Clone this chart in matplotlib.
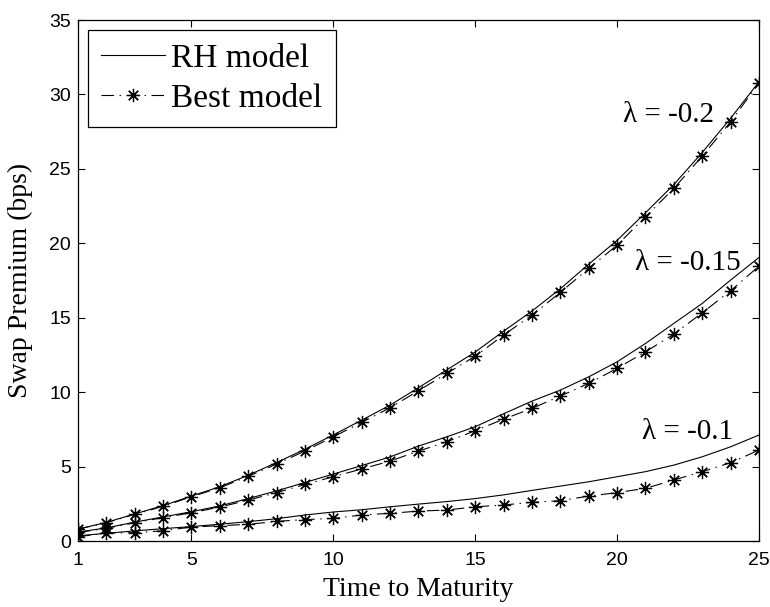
import matplotlib
matplotlib.use("Agg")
import matplotlib.pyplot as plt

# Maturity grid (years)
maturity = list(range(1, 26))

# Swap premium (bps), RH model vs. best model, per market price of risk
rh_02 = [0.80, 1.25, 1.82, 2.38, 3.02, 3.65, 4.42, 5.27, 6.17, 7.13, 8.12, 9.13, 10.30,
         11.50, 12.70, 14.10, 15.45, 16.95, 18.60, 20.20, 22.05, 23.95, 26.10, 28.40, 30.85]
best_02 = [0.80, 1.23, 1.79, 2.33, 2.98, 3.58, 4.34, 5.17, 6.05, 7.00, 7.97, 8.95, 10.10,
           11.26, 12.42, 13.83, 15.18, 16.70, 18.31, 19.88, 21.78, 23.69, 25.86, 28.16, 30.78]

rh_015 = [0.60, 0.88, 1.27, 1.62, 1.97, 2.36, 2.85, 3.37, 3.93, 4.50, 5.07, 5.65, 6.38,
          7.00, 7.68, 8.55, 9.40, 10.14, 11.03, 12.04, 13.27, 14.62, 15.96, 17.53, 19.05]
best_015 = [0.58, 0.85, 1.23, 1.57, 1.90, 2.28, 2.75, 3.25, 3.80, 4.32, 4.84, 5.37, 6.04,
            6.67, 7.41, 8.19, 8.91, 9.74, 10.59, 11.60, 12.71, 13.90, 15.33, 16.81, 18.47]

rh_01 = [0.35, 0.52, 0.68, 0.83, 0.97, 1.13, 1.30, 1.50, 1.75, 1.95, 2.10, 2.30, 2.48,
         2.65, 2.85, 3.10, 3.40, 3.69, 3.98, 4.32, 4.66, 5.10, 5.66, 6.33, 7.12]
best_01 = [0.29, 0.52, 0.56, 0.69, 0.94, 1.03, 1.12, 1.32, 1.44, 1.52, 1.75, 1.86, 2.01,
           2.08, 2.30, 2.42, 2.60, 2.71, 3.02, 3.25, 3.54, 4.10, 4.66, 5.26, 6.11]

curve_labels = ["\u03bb = -0.2", "\u03bb = -0.15", "\u03bb = -0.1"]
label_pos = [(23.4, 28.6), (24.35, 18.7), (24.1, 7.3)]

xticks = [1, 5, 10, 15, 20, 25]
yticks = [0, 5, 10, 15, 20, 25, 30, 35]

serif = ["Liberation Serif", "DejaVu Serif"]
sans = ["Liberation Sans", "DejaVu Sans"]

plt.rcParams["lines.scale_dashes"] = False

fig = plt.figure(figsize=(7.7, 6.07), dpi=100)
ax = fig.add_axes([0.1013, 0.1087, 0.8844, 0.8583])

dash_dot = (9, 4, 1, 4)
marker = (8, 2, 0)

pairs = [(rh_02, best_02), (rh_015, best_015), (rh_01, best_01)]
for i, (rh, best) in enumerate(pairs):
    ax.plot(maturity, rh, color="black", linewidth=0.8,
            label="RH model" if i == 0 else None)
    ax.plot(maturity, best, color="black", linewidth=0.8, dashes=dash_dot,
            marker=marker, markersize=9.5, markeredgewidth=0.9,
            label="Best model" if i == 0 else None)

for text, (tx, ty) in zip(curve_labels, label_pos):
    ax.text(tx, ty, text, ha="right", va="center", fontsize=21, family=serif)

ax.set_xlim(1, 25)
ax.set_ylim(0, 35)
ax.set_xticks(xticks)
ax.set_yticks(yticks)
ax.tick_params(direction="in", length=5, width=0.8, top=True, right=True,
               labelsize=14)
ax.tick_params(axis="x", pad=8)
ax.tick_params(axis="y", pad=5)
for lab in ax.get_xticklabels() + ax.get_yticklabels():
    lab.set_family(sans)
for sp in ax.spines.values():
    sp.set_linewidth(0.9)

ax.set_xlabel("Time to Maturity", fontsize=20, family=serif, labelpad=6)
ax.set_ylabel("Swap Premium (bps)", fontsize=20, family=serif, labelpad=12)

leg = ax.legend(loc="upper left", bbox_to_anchor=(0, 1), borderaxespad=0.3,
                prop={"family": serif, "size": 24}, handlelength=1.9,
                handletextpad=0.2, borderpad=0.4, labelspacing=0.28,
                numpoints=1, fancybox=False, framealpha=1)
leg.get_frame().set_edgecolor("black")
leg.get_frame().set_linewidth(0.9)

fig.savefig("out.png", dpi=100)
